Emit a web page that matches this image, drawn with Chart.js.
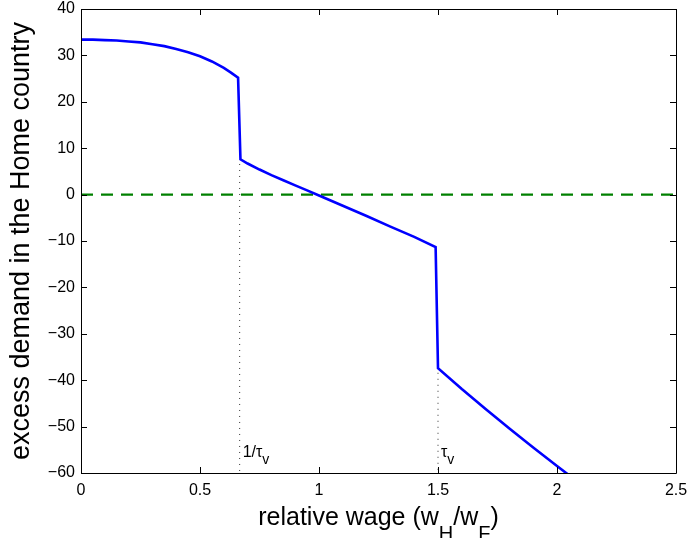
<!DOCTYPE html>
<html>
<head>
<meta charset="utf-8">
<script src="https://cdn.jsdelivr.net/npm/chart.js@4"></script>
<style>
  body { margin: 0; background: #fff; }
</style>
</head>
<body>
<canvas id="chart" width="688" height="538"></canvas>
<script>
// relative wage w_H/w_F and excess demand in Home
const relWage = [0, 0.05, 0.1, 0.15, 0.2, 0.25, 0.3, 0.35, 0.4, 0.45, 0.5, 0.55, 0.6, 0.63, 0.66,
                 0.67, 0.7, 0.75, 0.8, 0.85, 0.9, 0.95, 1.0, 1.1, 1.2, 1.3, 1.4, 1.49,
                 1.5, 1.6, 1.7, 1.8, 1.9, 2.0, 2.1];
const excessDemand = [33.4, 33.4, 33.3, 33.2, 33.0, 32.8, 32.4, 32.0, 31.4, 30.7, 29.8, 28.7, 27.3, 26.3, 25.2,
                      7.6, 6.7, 5.4, 4.2, 3.1, 2.0, 0.9, -0.2, -2.4, -4.6, -6.9, -9.1, -11.3,
                      -37.4, -41.9, -46.2, -50.4, -54.5, -58.5, -62.4];
const tauMarks = [1 / 1.5, 1.5];        // 1/tau_v and tau_v
const tauMarkTop = [6.6, -38.4];        // where the dotted guides start
const tauLabels = [["1/\u03c4", "v"], ["\u03c4", "v"]];
const xTicks = [0, 0.5, 1, 1.5, 2, 2.5];
const yTicks = [-60, -50, -40, -30, -20, -10, 0, 10, 20, 30, 40];

const FONT = "'Liberation Sans', Arial, Helvetica, sans-serif";

const curve = relWage.map((x, i) => ({ x: x, y: excessDemand[i] }));

const datasets = [
  {
    data: curve,
    borderColor: '#0000ff',
    borderWidth: 2.6,
    pointRadius: 0,
    tension: 0
  },
  {
    data: [{ x: 0, y: 0 }, { x: 2.5, y: 0 }],
    borderColor: '#008000',
    borderWidth: 2.4,
    borderDash: [12, 8],
    pointRadius: 0
  }
];
tauMarks.forEach((t, i) => {
  datasets.push({
    data: [{ x: t, y: tauMarkTop[i] }, { x: t, y: -60 }],
    borderColor: '#333',
    borderWidth: 1,
    borderDash: [1, 5],
    pointRadius: 0
  });
});

// MATLAB-like box with inward ticks plus the text bits chart.js can't do
const matlabBox = {
  id: 'matlabBox',
  afterDraw(chart) {
    const { ctx, chartArea: a, scales: { x, y } } = chart;
    ctx.save();
    ctx.strokeStyle = '#000';
    ctx.lineWidth = 1;
    ctx.beginPath();
    ctx.rect(Math.round(a.left) + 0.5, Math.round(a.top) + 0.5,
             Math.round(a.right - a.left), Math.round(a.bottom - a.top));
    const tl = 6;
    xTicks.forEach(v => {
      const px = Math.round(x.getPixelForValue(v)) + 0.5;
      ctx.moveTo(px, a.bottom); ctx.lineTo(px, a.bottom - tl);
      ctx.moveTo(px, a.top); ctx.lineTo(px, a.top + tl);
    });
    yTicks.forEach(v => {
      const py = Math.round(y.getPixelForValue(v)) + 0.5;
      ctx.moveTo(a.left, py); ctx.lineTo(a.left + tl, py);
      ctx.moveTo(a.right, py); ctx.lineTo(a.right - tl, py);
    });
    ctx.stroke();

    // tau labels
    ctx.fillStyle = '#000';
    ctx.textBaseline = 'alphabetic';
    tauMarks.forEach((t, i) => {
      let px = x.getPixelForValue(t) + 3;
      const base = a.bottom - 16;
      ctx.font = '16px ' + FONT;
      ctx.fillText(tauLabels[i][0], px, base);
      px += ctx.measureText(tauLabels[i][0]).width;
      ctx.font = '14px ' + FONT;
      ctx.fillText(tauLabels[i][1], px, base + 7);
    });

    // x axis title with subscripts
    const parts = [['relative wage (w', 0], ['H', 1], ['/w', 0], ['F', 1], [')', 0]];
    const big = '25px ' + FONT, small = '20px ' + FONT;
    let total = 0;
    parts.forEach(p => {
      ctx.font = p[1] ? small : big;
      total += ctx.measureText(p[0]).width;
    });
    let cx = (a.left + a.right) / 2 - total / 2;
    const baseY = 525;
    parts.forEach(p => {
      ctx.font = p[1] ? small : big;
      ctx.fillText(p[0], cx, p[1] ? baseY + 15 : baseY);
      cx += ctx.measureText(p[0]).width;
    });
    ctx.restore();
  }
};

new Chart(document.getElementById('chart'), {
  type: 'line',
  data: { datasets: datasets },
  plugins: [matlabBox],
  options: {
    responsive: false,
    animation: false,
    devicePixelRatio: 1,
    layout: { padding: { top: 9, right: 12, left: 0, bottom: 0 } },
    plugins: { legend: { display: false }, tooltip: { enabled: false } },
    scales: {
      x: {
        type: 'linear',
        min: 0,
        max: 2.5,
        afterFit: s => { s.height = 65; s.paddingLeft = 0; s.paddingRight = 0; },
        afterBuildTicks: s => { s.ticks = xTicks.map(v => ({ value: v })); },
        grid: { display: false, drawTicks: false },
        border: { display: false },
        ticks: {
          padding: 8,
          color: '#000',
          font: { family: FONT, size: 16 },
          maxRotation: 0,
          callback: v => String(v)
        }
      },
      y: {
        type: 'linear',
        min: -60,
        max: 40,
        afterFit: s => { s.width = 81; s.paddingTop = 0; s.paddingBottom = 0; },
        afterBuildTicks: s => { s.ticks = yTicks.map(v => ({ value: v })); },
        grid: { display: false, drawTicks: false },
        border: { display: false },
        ticks: {
          padding: 6,
          color: '#000',
          font: { family: FONT, size: 16 },
          callback: v => String(v).replace('-', '\u2212')
        },
        title: {
          display: true,
          text: 'excess demand in the Home country',
          color: '#000',
          font: { family: FONT, size: 27 },
          padding: { top: 5, bottom: 0 }
        }
      }
    }
  }
});
</script>
</body>
</html>
